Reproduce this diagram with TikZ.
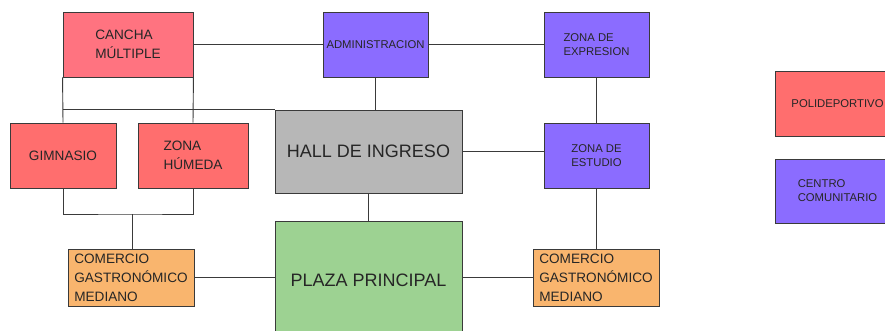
\documentclass[tikz,border=0pt]{standalone}
\usepackage{fontspec}
\setmainfont{Liberation Sans}
\definecolor{canchared}{HTML}{FF7380}
\definecolor{sportred}{HTML}{FF6E6E}
\definecolor{civicblue}{HTML}{8B6CFF}
\definecolor{hallgray}{HTML}{B7B7B7}
\definecolor{plazagreen}{HTML}{9DD292}
\definecolor{shoporange}{HTML}{F9B56E}
\definecolor{edgegray}{HTML}{3A3A3A}
\tikzset{
  zone/.style={draw=edgegray,line width=0.9pt,inner sep=0pt,align=left,text=black!85},
  midtxt/.style={font=\fontsize{13.6}{19}\selectfont},
  smalltxt/.style={font=\fontsize{11.3}{14}\selectfont},
  bigtxt/.style={font=\fontsize{18}{22}\selectfont},
  link/.style={draw=edgegray,line width=0.9pt}
}
\begin{document}
\begin{tikzpicture}[x=1pt,y=-1pt]
\clip (0,0) rectangle (885,331);
\fill[white] (0,0) rectangle (885,331);
%---------------------------------------------------
\node[zone,midtxt,fill=canchared,minimum width=130,minimum height=65] (cancha) at (128,44.5) {CANCHA\\MÚLTIPLE};
\node[zone,smalltxt,fill=civicblue,minimum width=105,minimum height=65] (admin) at (375.5,44.5) {ADMINISTRACION};
\node[zone,smalltxt,fill=civicblue,minimum width=105,minimum height=65] (expresion) at (596.5,44.5) {ZONA DE\\EXPRESION};
%---------------------------------------------------
\node[zone,midtxt,fill=sportred,minimum width=106,minimum height=65] (gimnasio) at (63,155.5) {GIMNASIO};
\node[zone,midtxt,fill=sportred,minimum width=110,minimum height=65] (humeda) at (193,155.5) {ZONA\\HÚMEDA};
\node[zone,bigtxt,fill=hallgray,minimum width=187,minimum height=83] (hall) at (368.5,151.5) {HALL DE INGRESO};
\node[zone,smalltxt,fill=civicblue,minimum width=105,minimum height=65] (estudio) at (596.5,155.5) {ZONA DE\\ESTUDIO};
%---------------------------------------------------
\node[zone,midtxt,fill=shoporange,minimum width=126,minimum height=57] (comL) at (131,277.5) {COMERCIO\\GASTRONÓMICO\\MEDIANO};
\node[zone,bigtxt,fill=plazagreen,minimum width=187,minimum height=124] (plaza) at (368.5,283) {};
\node[bigtxt,text=black!85] (plazatxt) at (368.5,280) {PLAZA PRINCIPAL};
\node[zone,midtxt,fill=shoporange,minimum width=126,minimum height=57] (comR) at (596,277.5) {COMERCIO\\GASTRONÓMICO\\MEDIANO};
%---------------------------------------------------
\node[zone,smalltxt,fill=sportred,minimum width=125,minimum height=65] (poli) at (837.5,103.5) {POLIDEPORTIVO};
\node[zone,smalltxt,fill=civicblue,minimum width=125,minimum height=64] (centro) at (837.5,191) {CENTRO\\COMUNITARIO};
%---------------------------------------------------
\coordinate (jn) at (132,214);
\draw[link] (cancha.east) -- (admin.west);
\draw[link] (admin.east) -- (expresion.west);
\draw[link] (admin.south) -- (admin.south |- hall.north);
\draw[link] (cancha.south west) -- (gimnasio.north);
\draw[link] (cancha.south east) -- (humeda.north);
\draw[link] (gimnasio.north |- hall.north) -- (hall.north west);
\draw[link] (gimnasio.south) |- (jn) -| (humeda.south);
\draw[link] (jn) -- (jn |- comL.north);
\draw[link] (hall.south) -- (plaza.north);
\draw[link] (hall.east) -- (hall.east -| estudio.west);
\draw[link] (expresion.south) -- (estudio.north);
\draw[link] (estudio.south) -- (estudio.south |- comR.north);
\draw[link] (comL.east) -- (comL.east -| plaza.west);
\draw[link] (comR.west -| plaza.east) -- (comR.west);
\end{tikzpicture}
\end{document}
